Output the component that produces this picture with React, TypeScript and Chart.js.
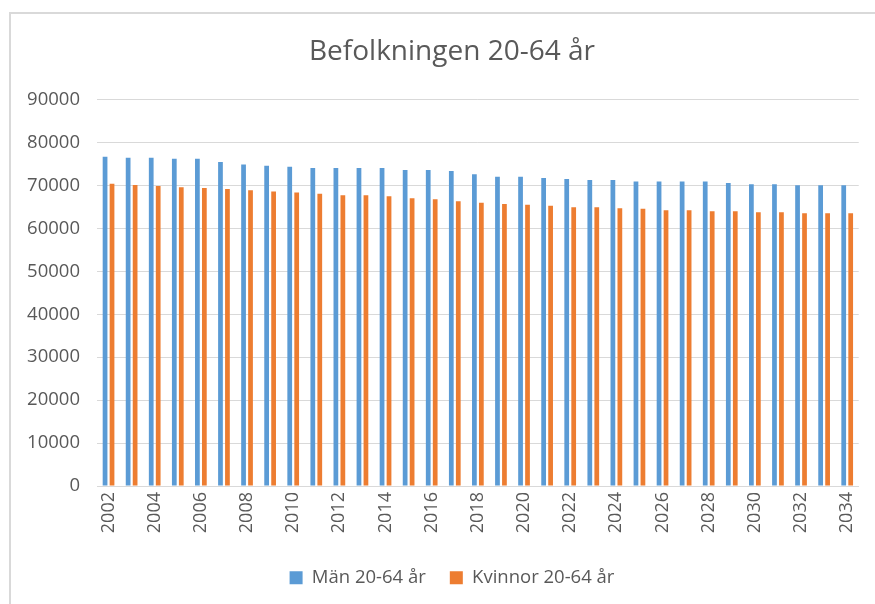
import React, { useEffect, useRef } from "react";
import { Chart, registerables } from "chart.js";

Chart.register(...registerables);

const years = [
  "2002", "2003", "2004", "2005", "2006", "2007", "2008", "2009", "2010", "2011",
  "2012", "2013", "2014", "2015", "2016", "2017", "2018", "2019", "2020", "2021",
  "2022", "2023", "2024", "2025", "2026", "2027", "2028", "2029", "2030", "2031",
  "2032", "2033", "2034",
];

const men = [
  76700, 76450, 76450, 76250, 76250, 75450, 74900, 74600, 74350, 74050,
  74050, 74050, 74050, 73600, 73600, 73350, 72600, 72050, 72050, 71750,
  71500, 71250, 71250, 70900, 70900, 70900, 70900, 70550, 70300, 70300,
  70050, 70050, 70050,
];

const women = [
  70400, 70100, 69900, 69600, 69400, 69150, 68900, 68600, 68350, 68050,
  67750, 67750, 67500, 67050, 66800, 66300, 65950, 65700, 65500, 65250,
  64950, 64950, 64700, 64550, 64250, 64250, 64000, 64000, 63750, 63750,
  63500, 63500, 63500,
];

const seriesLabels = ["Män 20-64 år", "Kvinnor 20-64 år"];
const titleText = "Befolkningen 20-64 år";

const FONT = "'Open Sans', 'Noto Sans', sans-serif";
const TEXT = "#595959";
const GRID = "#d9d9d9";

const borderPlugin = {
  id: "outerBorder",
  beforeDraw(chart: any) {
    const ctx = chart.ctx;
    ctx.save();
    ctx.fillStyle = "#ffffff";
    ctx.fillRect(0, 0, chart.width, chart.height);
    ctx.strokeStyle = GRID;
    ctx.lineWidth = 2;
    ctx.strokeRect(10, 13, chart.width + 20, chart.height + 20);
    ctx.restore();
  },
};

export default function App() {
  const ref = useRef<HTMLCanvasElement | null>(null);

  useEffect(() => {
    if (!ref.current) return;
    const chart = new Chart(ref.current, {
      type: "bar",
      data: {
        labels: years,
        datasets: [
          {
            label: seriesLabels[0],
            data: men,
            backgroundColor: "#5B9BD5",
            categoryPercentage: 0.604,
            barPercentage: 0.68,
          },
          {
            label: seriesLabels[1],
            data: women,
            backgroundColor: "#ED7D31",
            categoryPercentage: 0.604,
            barPercentage: 0.68,
          },
        ],
      },
      options: {
        responsive: false,
        animation: false,
        layout: { padding: { left: 42, right: 13, top: 0, bottom: 7 } },
        plugins: {
          title: {
            display: true,
            text: titleText,
            color: TEXT,
            font: { family: FONT, size: 28, weight: "normal" },
            padding: { top: 35, bottom: 31 },
          },
          legend: {
            position: "bottom",
            labels: {
              color: TEXT,
              font: { family: FONT, size: 18.5 },
              boxWidth: 13,
              boxHeight: 13,
              padding: 24,
            },
          },
          tooltip: { enabled: false },
        },
        scales: {
          x: {
            grid: { display: false, drawTicks: false },
            border: { display: true, color: GRID, width: 1 },
            ticks: {
              color: TEXT,
              font: { family: FONT, size: 18 },
              autoSkip: false,
              minRotation: 90,
              maxRotation: 90,
              padding: 6,
              callback: (_v: any, i: number) => (i % 2 === 0 ? years[i] : ""),
            },
            afterFit: (scale: any) => {
              scale.height = 58.5;
            },
          },
          y: {
            min: 0,
            max: 90000,
            grid: { color: GRID, lineWidth: 1, drawTicks: false },
            border: { display: false },
            ticks: {
              stepSize: 10000,
              color: TEXT,
              font: { family: FONT, size: 18.5 },
              padding: 17,
              callback: (v: any) => String(v),
            },
            afterFit: (scale: any) => {
              scale.width = 55;
            },
            afterUpdate: (scale: any) => {
              // let tick labels extend into the left padding instead of being clipped
              scale._computeLabelArea = () => undefined;
            },
          },
        },
      },
      plugins: [borderPlugin],
    });
    return () => chart.destroy();
  }, []);

  return (
    <div style={{ position: "absolute", left: 0, top: 0, width: 875, height: 604, background: "#fff" }}>
      <canvas ref={ref} width={875} height={604} style={{ display: "block" }} />
    </div>
  );
}
